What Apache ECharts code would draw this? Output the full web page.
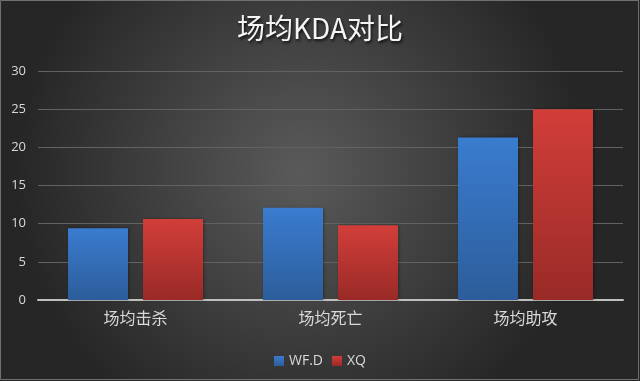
<!DOCTYPE html>
<html>
<head>
<meta charset="utf-8">
<script src="https://cdn.jsdelivr.net/npm/echarts@6/dist/echarts.min.js"></script>
<style>
html,body{margin:0;padding:0;background:#333;}
#main{width:640px;height:381px;}
</style>
</head>
<body>
<div id="main"></div>
<script>
var categories = ['场均击杀', '场均死亡', '场均助攻'];
var seriesNames = ['WF.D', 'XQ'];
var wfdValues = [9.4, 12.1, 21.3];
var xqValues = [10.6, 9.8, 25.0];
var yTicks = [0, 5, 10, 15, 20, 25, 30];

var chart = echarts.init(document.getElementById('main'), null, {renderer: 'canvas'});
var blueGrad = new echarts.graphic.LinearGradient(0, 0, 0, 1, [
  {offset: 0, color: '#3a7ccf'}, {offset: 1, color: '#2c5d9a'}
]);
var redGrad = new echarts.graphic.LinearGradient(0, 0, 0, 1, [
  {offset: 0, color: '#d23e39'}, {offset: 1, color: '#992a27'}
]);
var option = {
  backgroundColor: new echarts.graphic.RadialGradient(0.47, 0.45, 0.75, [
    {offset: 0, color: '#5a5a5a'}, {offset: 1, color: '#262626'}
  ]),
  animation: false,
  title: {
    text: '场均KDA对比',
    left: 'center',
    top: 9,
    textStyle: {
      fontFamily: 'Noto Sans CJK SC',
      fontSize: 28,
      fontWeight: 'normal',
      color: '#f4f4f4',
      textShadowColor: 'rgba(0,0,0,0.8)',
      textShadowBlur: 3,
      textShadowOffsetX: 1,
      textShadowOffsetY: 2
    }
  },
  legend: {
    data: seriesNames,
    top: 349,
    left: 'center',
    itemWidth: 10,
    itemHeight: 10,
    itemGap: 9,
    icon: 'rect',
    textStyle: {color: '#d9d9d9', fontSize: 14, fontFamily: 'Open Sans'}
  },
  grid: {left: 38, right: 17, top: 71, bottom: 81},
  xAxis: {
    type: 'category',
    data: categories,
    axisLine: {lineStyle: {color: '#bfbfbf', width: 2}},
    axisTick: {show: false},
    axisLabel: {color: '#d9d9d9', fontSize: 16, fontFamily: 'Noto Sans CJK SC', margin: 10}
  },
  yAxis: {
    type: 'value',
    min: yTicks[0],
    max: yTicks[yTicks.length - 1],
    interval: 5,
    axisLine: {show: false},
    axisTick: {show: false},
    splitLine: {lineStyle: {color: '#626262', width: 1}},
    axisLabel: {color: '#d9d9d9', fontSize: 13, fontFamily: 'Open Sans', margin: 12}
  },
  series: [
    {
      name: seriesNames[0], type: 'bar', data: wfdValues,
      barWidth: 60, barGap: '25%',
      itemStyle: {color: blueGrad, shadowColor: 'rgba(0,0,0,0.35)', shadowBlur: 3, shadowOffsetX: 1}
    },
    {
      name: seriesNames[1], type: 'bar', data: xqValues,
      barWidth: 60, barGap: '25%',
      itemStyle: {color: redGrad, shadowColor: 'rgba(0,0,0,0.35)', shadowBlur: 3, shadowOffsetX: 1}
    }
  ],
  graphic: [{
    type: 'rect', shape: {x: 0.5, y: 0.5, width: 638, height: 379},
    style: {fill: 'none', stroke: '#707070', lineWidth: 1}, silent: true
  }]
};
chart.setOption(option);
</script>
</body>
</html>
